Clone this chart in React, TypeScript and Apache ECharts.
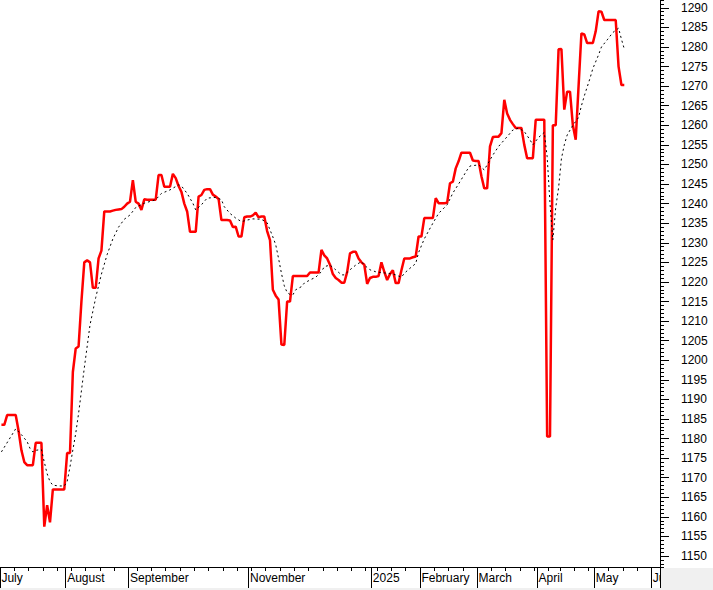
import React, { useEffect, useRef } from "react";
import * as echarts from "echarts";

// Trading calendar (weekdays minus market holidays)
const startDay = "2024-07-01";
const endDay = "2025-06-04";
const holidays = [
  "2024-09-02", "2024-09-03", "2025-01-01", "2025-01-27", "2025-01-28",
  "2025-01-29", "2025-01-30", "2025-01-31", "2025-04-07", "2025-04-30",
  "2025-05-01", "2025-05-02",
];

// Month labels shown on the time axis (Oct & Dec are not labelled)
const monthLabels: Record<string, string> = {
  "2024-07": "July",
  "2024-08": "August",
  "2024-09": "September",
  "2024-11": "November",
  "2025-01": "2025",
  "2025-02": "February",
  "2025-03": "March",
  "2025-04": "April",
  "2025-05": "May",
  "2025-06": "June",
};

// Daily close (red line), one value per trading day from 2024-07-01
const closeValues = [
  1183.5, 1183.5, 1186, 1186, 1186, 1186, 1182, 1177, 1174, 1173.2,
  1173.2, 1173.2, 1178.9, 1178.9, 1178.9, 1157.5, 1163, 1158.6, 1167, 1167,
  1167, 1167, 1167, 1176.3, 1176.3, 1197, 1203, 1203.5, 1215, 1225,
  1225.5, 1225, 1218.5, 1218.5, 1226, 1228, 1238, 1238, 1238, 1238.2,
  1238.4, 1238.5, 1238.6, 1239.2, 1240, 1240.5, 1246, 1240.5, 1240, 1238.4,
  1241.1, 1241, 1241, 1241, 1241, 1247.3, 1247.3, 1244.3, 1244.3, 1244.3,
  1247.6, 1246.5, 1244.5, 1243, 1240, 1238, 1232.8, 1232.8, 1232.8, 1241.8,
  1242.2, 1243.5, 1243.7, 1243.7, 1242.3, 1241.8, 1241.2, 1235.8, 1235.8, 1235.8,
  1235.7, 1234, 1234.1, 1231.6, 1231.6, 1236.5, 1236.7, 1236.7, 1237, 1237.7,
  1236.5, 1236.7, 1236.7, 1233, 1230.7, 1218, 1216.5, 1215.5, 1204, 1203.9,
  1215, 1215, 1221.5, 1221.5, 1221.5, 1221.5, 1221.5, 1221.5, 1222.4, 1222.4,
  1222.4, 1222.4, 1228.2, 1226.8, 1226, 1224.4, 1222, 1221, 1220.5, 1219.8,
  1219.8, 1222.5, 1227.3, 1227.7, 1227.7, 1226, 1225, 1224.4, 1219.5, 1221,
  1221.3, 1221.3, 1221.5, 1225, 1222.6, 1220.5, 1222, 1223, 1219.7, 1219.7,
  1223, 1226, 1226, 1226, 1226.3, 1226.5, 1231.6, 1231.6, 1236.3, 1236.3,
  1236.3, 1236.3, 1241.4, 1240.1, 1240.1, 1240.1, 1240.2, 1245.2, 1245.6, 1249,
  1250.8, 1253, 1253, 1253, 1253, 1251, 1250.9, 1250.9, 1247, 1243.9,
  1243.9, 1254.6, 1257, 1257.1, 1257.1, 1258, 1266.5, 1263, 1261.4, 1260.3,
  1259.3, 1259.3, 1259.3, 1255, 1251.6, 1251.6, 1251.6, 1261.4, 1261.4, 1261.4,
  1261.4, 1180.5, 1180.5, 1260, 1260, 1279.4, 1279.5, 1264, 1268.6, 1268.6,
  1260, 1256.3, 1270, 1283.5, 1283.2, 1281, 1281, 1281, 1284, 1289.1,
  1289, 1286.9, 1286.9, 1286.9, 1286.9, 1286.9, 1275, 1270.3, 1270.3,
];

// Moving average (black dotted line) read at trading-day index
const maReadings: [number, number][] = [
  [0, 1176.6], [5, 1182.5], [7, 1181], [9, 1179.2], [10, 1177.5], [11, 1176.6],
  [12, 1177], [14, 1177.2], [15, 1174], [16, 1171], [17, 1169], [18, 1168.1],
  [20, 1167.9], [22, 1167.9], [23, 1169], [24, 1172.8], [25, 1177.1], [26, 1181.3],
  [27, 1186.4], [29, 1198], [31, 1209], [33, 1216], [35, 1222], [37, 1227],
  [39, 1231], [41, 1234], [43, 1236], [45, 1237.1], [47, 1239], [50, 1240.1],
  [54, 1241], [56, 1242.6], [59, 1243.5], [62, 1244.8], [63, 1244.5], [65, 1242.6],
  [67, 1240.1], [68, 1238.4], [70, 1239.7], [72, 1241.4], [75, 1241.6], [77, 1241],
  [78, 1239.2], [80, 1237.5], [82, 1236.3], [84, 1235.4], [86, 1235.8], [88, 1236.1],
  [91, 1236], [93, 1235.1], [94, 1233.3], [95, 1231.5], [96, 1229.5], [97, 1226],
  [98, 1222.2], [99, 1219], [100, 1217.3], [101, 1216.8], [102, 1216.7], [103, 1218],
  [105, 1218.8], [106, 1219.7], [108, 1220.5], [110, 1221.2], [112, 1222.6], [113, 1223.9],
  [115, 1224.3], [117, 1223.1], [119, 1221.8], [120, 1221.8], [122, 1223.1], [124, 1224.3],
  [126, 1225.2], [127, 1224.3], [129, 1223.1], [131, 1222.6], [133, 1222.4], [135, 1222.2],
  [137, 1222], [138, 1221.8], [140, 1221.2], [141, 1222.2], [143, 1223.5], [145, 1224.7],
  [146, 1227.5], [148, 1231], [151, 1235], [153, 1237.5], [156, 1239.7], [158, 1242.7],
  [160, 1245], [163, 1248.6], [164, 1249.6], [167, 1249.9], [169, 1248.6], [170, 1249.9],
  [172, 1252.4], [174, 1254.6], [177, 1257.1], [179, 1258.8], [181, 1259.3], [183, 1258.4],
  [185, 1256.3], [186, 1255], [188, 1256.9], [190, 1258.2], [191, 1252], [192, 1240],
  [193, 1230.7], [194, 1239], [195, 1244], [196, 1251.5], [197, 1255], [198, 1257.5],
  [200, 1260], [202, 1262], [203, 1265], [204, 1267.5], [206, 1272], [207, 1274.5],
  [209, 1278], [210, 1280], [212, 1281.8], [214, 1283.7], [216, 1284.8], [217, 1282],
  [218, 1279.5],
];

const yMin = 1147.2;
const yMax = 1292;

function buildTradingDays(): string[] {
  const out: string[] = [];
  const d = new Date(startDay + "T00:00:00Z");
  const end = new Date(endDay + "T00:00:00Z").getTime();
  while (d.getTime() <= end) {
    const wd = d.getUTCDay();
    const s = d.toISOString().slice(0, 10);
    if (wd !== 0 && wd !== 6 && holidays.indexOf(s) < 0) out.push(s);
    d.setUTCDate(d.getUTCDate() + 1);
  }
  return out;
}

export default function App() {
  const ref = useRef<HTMLDivElement>(null);

  useEffect(() => {
    document.body.style.margin = "0";
    if (!ref.current) return;
    const chart = echarts.init(ref.current, undefined, { renderer: "svg" });
    const days = buildTradingDays();

    const isMonthStart = (i: number) =>
      i === 0 || days[i].slice(0, 7) !== days[i - 1].slice(0, 7);
    const isLabelled = (i: number) =>
      isMonthStart(i) && monthLabels[days[i].slice(0, 7)] !== undefined;
    const isWeekStart = (i: number) => {
      if (i === 0) return true;
      const a = new Date(days[i - 1] + "T00:00:00Z");
      const b = new Date(days[i] + "T00:00:00Z");
      const gap = (b.getTime() - a.getTime()) / 86400000;
      return b.getUTCDay() <= a.getUTCDay() || gap >= 7;
    };

    const font = "'Liberation Sans', Arial, sans-serif";

    chart.setOption({
      animation: false,
      backgroundColor: "#ffffff",
      grid: { left: 0, top: 0, right: 53, bottom: 23, outerBoundsMode: "none" },
      xAxis: [
        {
          type: "category",
          data: days,
          position: "bottom",
          boundaryGap: true,
          axisLine: { show: true, lineStyle: { color: "#000", width: 1 } },
          axisTick: {
            show: true,
            length: 4,
            interval: (i: number) => isWeekStart(i),
            lineStyle: { color: "#000" },
          },
          axisLabel: { show: false },
          splitLine: { show: false },
        },
        {
          type: "category",
          data: days,
          position: "bottom",
          boundaryGap: true,
          axisLine: { show: false },
          axisTick: {
            show: true,
            length: 21,
            interval: (i: number) => isLabelled(i),
            lineStyle: { color: "#000" },
          },
          axisLabel: {
            show: true,
            interval: (i: number) => isLabelled(i),
            formatter: (v: string) => monthLabels[v.slice(0, 7)] || "",
            align: "left",
            margin: 5,
            color: "#000",
            fontSize: 12,
            fontFamily: font,
          },
          splitLine: { show: false },
        },
      ],
      yAxis: [
        {
          type: "value",
          position: "right",
          min: yMin,
          max: yMax,
          splitNumber: 28,
          minInterval: 5,
          maxInterval: 5,
          axisLine: { show: true, lineStyle: { color: "#000", width: 1 } },
          axisTick: { show: true, length: 9, lineStyle: { color: "#000" } },
          axisLabel: {
            show: true,
            margin: 21,
            color: "#000",
            fontSize: 12,
            fontFamily: font,
            showMinLabel: false,
            showMaxLabel: false,
            formatter: (v: number) =>
              Math.abs(v - Math.round(v / 5) * 5) < 1e-6 ? String(Math.round(v)) : "",
          },
          splitLine: { show: false },
        },
        {
          type: "value",
          position: "right",
          min: yMin,
          max: yMax,
          splitNumber: 145,
          minInterval: 1,
          maxInterval: 1,
          axisLine: { show: false },
          axisTick: { show: true, length: 4, lineStyle: { color: "#000" } },
          axisLabel: { show: false },
          splitLine: { show: false },
        },
      ],
      series: [
        {
          type: "line",
          name: "Close",
          data: closeValues,
          xAxisIndex: 0,
          yAxisIndex: 0,
          symbol: "none",
          lineStyle: { color: "#ff0000", width: 2.5 },
          z: 2,
        },
        {
          type: "line",
          name: "MA",
          data: maReadings.map(([i, v]) => [days[i], v]),
          xAxisIndex: 0,
          yAxisIndex: 0,
          symbol: "none",
          connectNulls: true,
          lineStyle: { color: "#000", width: 1, type: [2, 3] },
          z: 3,
        },
      ],
      graphic: [
        {
          type: "rect",
          z: 100,
          shape: { x: 661, y: 568, width: 52, height: 22 },
          style: { fill: "#f0f0f0" },
        },
        {
          type: "rect",
          z: 100,
          shape: { x: 0, y: 588, width: 713, height: 2 },
          style: { fill: "#f0f0f0" },
        },
      ],
    });

    return () => chart.dispose();
  }, []);

  return <div ref={ref} style={{ width: 713, height: 590 }} />;
}
